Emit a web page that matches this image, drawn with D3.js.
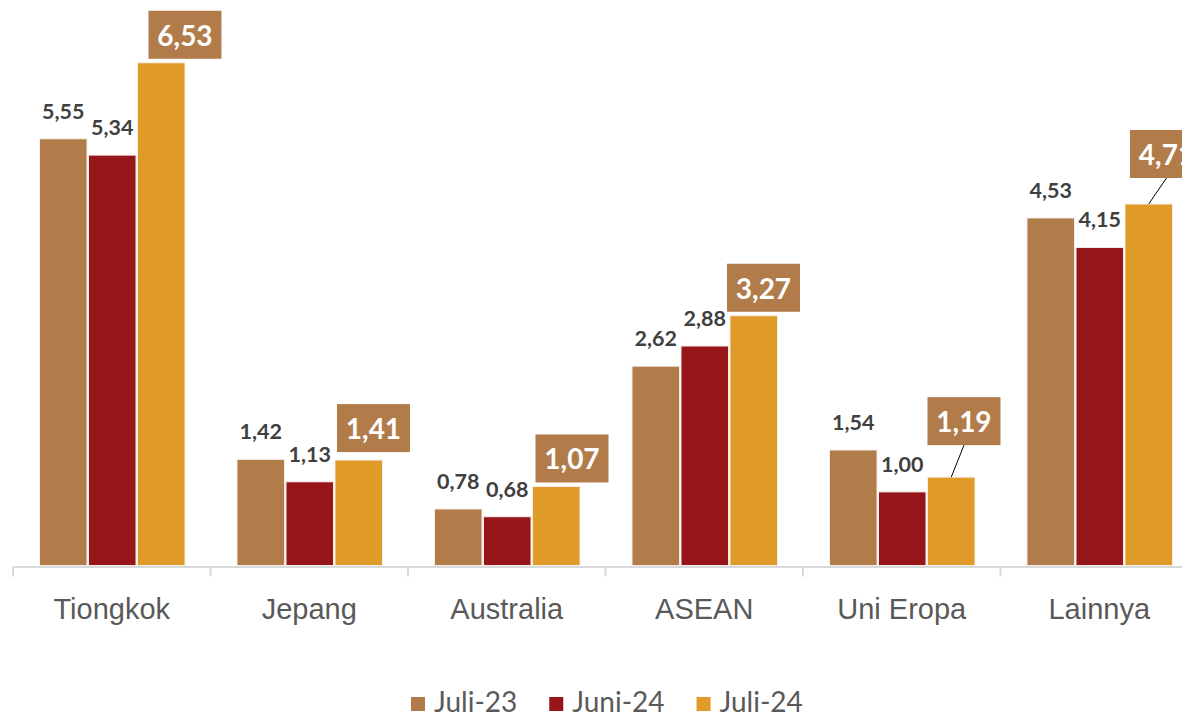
<!DOCTYPE html>
<html>
<head>
<meta charset="utf-8">
<script src="https://cdn.jsdelivr.net/npm/d3@7/dist/d3.min.js"></script>
<style>
  body { margin: 0; background: #fff; }
  svg { display: block; font-family: Lato, "Open Sans", sans-serif; }
</style>
</head>
<body>
<svg id="chart" width="1182" height="715"></svg>
<script>
// data
var categories = ["Tiongkok", "Jepang", "Australia", "ASEAN", "Uni Eropa", "Lainnya"];
var seriesNames = ["Juli-23", "Juni-24", "Juli-24"];
var juli23 = [5.55, 1.42, 0.78, 2.62, 1.54, 4.53];
var juni24 = [5.34, 1.13, 0.68, 2.88, 1.00, 4.15];
var juli24 = [6.53, 1.41, 1.07, 3.27, 1.19, 4.71];
var colors = ["#b17b4a", "#961519", "#e09a28"];

// where the boxed Juli-24 label sits relative to its bar: [dx, gap above bar]
var calloutNudge = [[11, 4], [2, 8], [3, 4], [-3, 4], [0, 32], [5, 26]];

var svg = d3.select("#chart");
var axisY = 566.5;

var x0 = d3.scaleBand().domain(categories).range([13, 13 + 6 * 197.5]).padding(0);
var x1 = d3.scaleBand().domain(seriesNames).range([26.5, 172]).paddingInner(0.03);
var y = d3.scaleLinear().domain([0, 7]).range([569.5, 26.3]);

var allSeries = [juli23, juni24, juli24];
var rows = [];
categories.forEach(function(c, i) {
    seriesNames.forEach(function(s, j) {
        rows.push({cat: c, idx: i, series: s, si: j, value: allSeries[j][i]});
    });
});

function fmt(v) { return v.toFixed(2).replace(".", ","); }

// bars
svg.append("g").selectAll("rect")
    .data(rows)
    .enter().append("rect")
    .attr("x", function(d) { return x0(d.cat) + x1(d.series); })
    .attr("y", function(d) { return y(d.value); })
    .attr("width", x1.bandwidth())
    .attr("height", function(d) { return axisY - 1 - y(d.value); })
    .attr("fill", function(d) { return colors[d.si]; })
    .attr("stroke", "#f4eee8")
    .attr("stroke-width", 1);

// axis
var axis = svg.append("g").attr("transform", "translate(0," + axisY + ")")
    .call(d3.axisBottom(x0).tickSize(0).tickPadding(0).tickFormat(""));
axis.select(".domain").attr("stroke", "#d9d9d9").attr("stroke-width", 2);
axis.selectAll(".tick").remove();
axis.selectAll(".sep")
    .data(d3.range(categories.length + 1))
    .enter().append("line")
    .attr("x1", function(i) { return 13 + i * x0.step(); })
    .attr("x2", function(i) { return 13 + i * x0.step(); })
    .attr("y1", 0).attr("y2", 10)
    .attr("stroke", "#d9d9d9").attr("stroke-width", 2);
axis.selectAll(".cat")
    .data(categories)
    .enter().append("text")
    .attr("x", function(d) { return x0(d) + x0.bandwidth() / 2; })
    .attr("y", 52.5)
    .attr("text-anchor", "middle")
    .attr("fill", "#595959")
    .style("font-size", "29px")
    .text(function(d) { return d; });

// plain value labels
svg.append("g").selectAll("text")
    .data(rows.filter(function(d) { return d.si < 2; }))
    .enter().append("text")
    .attr("x", function(d) { return x0(d.cat) + x1(d.series) + x1.bandwidth() / 2; })
    .attr("y", function(d) { return y(d.value) - 20; })
    .attr("text-anchor", "middle")
    .attr("fill", "#404040")
    .style("font-size", "21.5px")
    .style("font-weight", "bold")
    .text(function(d) { return fmt(d.value); });

// boxed labels for Juli-24
var boxW = 73, boxH = 48;
var callouts = svg.append("g").selectAll("g")
    .data(rows.filter(function(d) { return d.si == 2; }))
    .enter().append("g")
    .attr("transform", function(d) {
        var bx = x0(d.cat) + x1(d.series) + calloutNudge[d.idx][0];
        var by = y(d.value) - calloutNudge[d.idx][1] - boxH;
        return "translate(" + bx + "," + by + ")";
    });

callouts.filter(function(d) { return calloutNudge[d.idx][1] > 10; })
    .append("line")
    .attr("x1", boxW / 2)
    .attr("y1", boxH)
    .attr("x2", function(d) { return x1.bandwidth() / 2 - calloutNudge[d.idx][0]; })
    .attr("y2", function(d) { return boxH + calloutNudge[d.idx][1]; })
    .attr("stroke", "#000")
    .attr("stroke-width", 1);

callouts.append("rect")
    .attr("width", boxW)
    .attr("height", boxH)
    .attr("fill", colors[0]);

callouts.append("text")
    .attr("x", boxW / 2)
    .attr("y", 35)
    .attr("text-anchor", "middle")
    .attr("fill", "#fff")
    .style("font-size", "28px")
    .style("font-weight", "bold")
    .text(function(d) { return fmt(d.value); });

// legend
var legend = svg.append("g").attr("transform", "translate(411,697)");
var lx = 0;
seriesNames.forEach(function(s, i) {
    var item = legend.append("g").attr("transform", "translate(" + lx + ",0)");
    item.append("rect").attr("width", 14).attr("height", 14).attr("fill", colors[i]);
    var t = item.append("text")
        .attr("x", 23)
        .attr("y", 15)
        .attr("fill", "#595959")
        .style("font-size", "28px")
        .text(s);
    lx += 23 + t.node().getComputedTextLength() + 32;
});
</script>
</body>
</html>
